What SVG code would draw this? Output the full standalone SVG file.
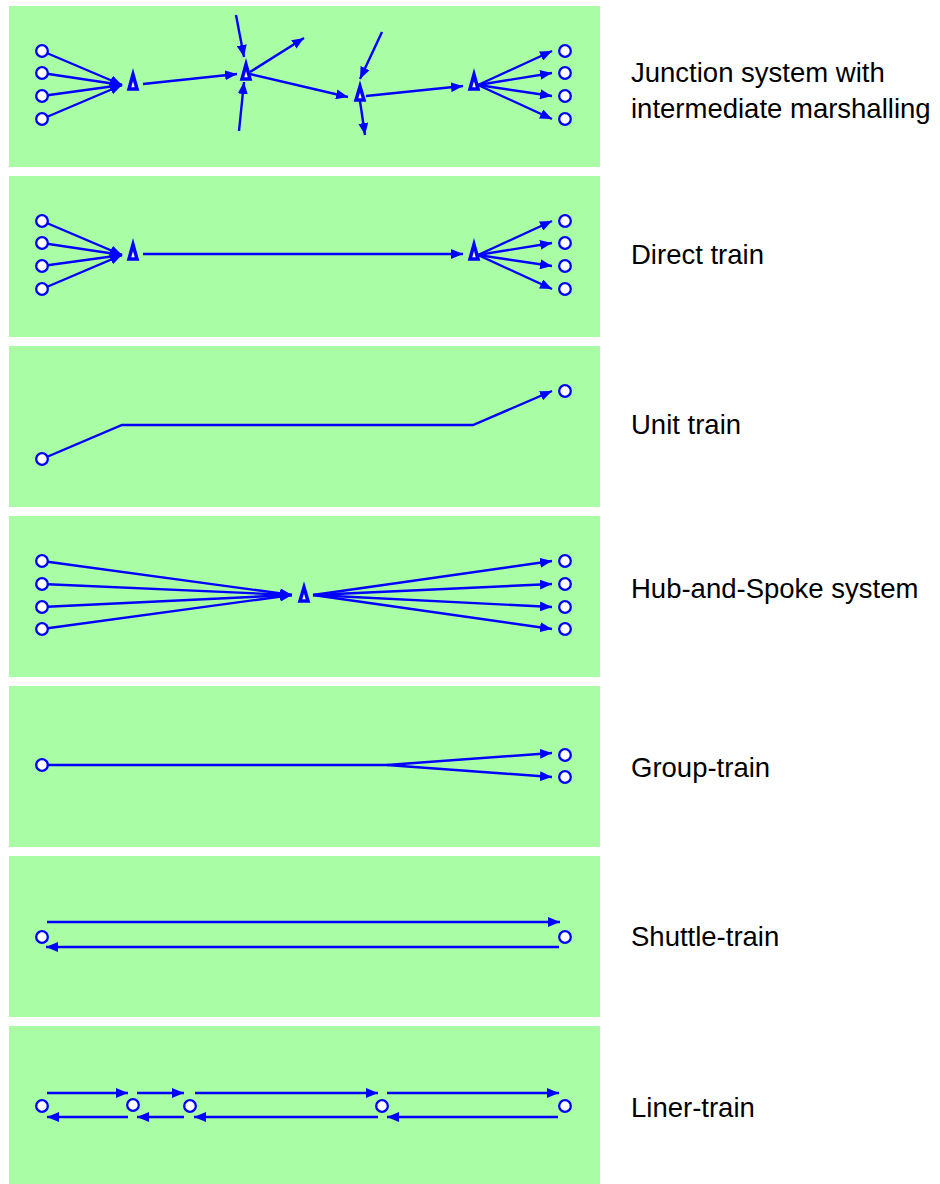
<svg xmlns="http://www.w3.org/2000/svg" width="940" height="1184" viewBox="0 0 940 1184">
<defs>
<marker id="ah" markerUnits="userSpaceOnUse" markerWidth="13" markerHeight="10" refX="12" refY="5" orient="auto">
<path d="M0,0 L12,5 L0,10 Z" fill="#0000ff"/>
</marker>
</defs>
<style>
.panel{fill:#a9fda5}
.c{fill:#fff;stroke:#0000ff;stroke-width:2.3}
.t{fill:#fff;stroke:#0000ff;stroke-width:3.5;stroke-linejoin:miter}
.l{stroke:#0000ff;stroke-width:2.4;fill:none}
.a{stroke:#0000ff;stroke-width:2.4;fill:none;marker-end:url(#ah)}
.lbl{font-family:"Liberation Sans",Arial,sans-serif;font-size:27.5px;fill:#000}
</style>
<rect width="940" height="1184" fill="#fff"/>
<g id="panels">
<rect class="panel" x="9" y="6" width="591" height="161"/>
<rect class="panel" x="9" y="176" width="591" height="161"/>
<rect class="panel" x="9" y="346" width="591" height="161"/>
<rect class="panel" x="9" y="516" width="591" height="161"/>
<rect class="panel" x="9" y="686" width="591" height="161"/>
<rect class="panel" x="9" y="856" width="591" height="161"/>
<rect class="panel" x="9" y="1026" width="591" height="161"/>
</g>
<g id="connectors">
<line class="a" x1="42" y1="51" x2="122" y2="85"/>
<line class="a" x1="42" y1="73" x2="122" y2="85"/>
<line class="a" x1="42" y1="96" x2="122" y2="85"/>
<line class="a" x1="42" y1="119" x2="122" y2="85"/>
<line class="a" x1="143" y1="84" x2="237" y2="74"/>
<line class="a" x1="236" y1="15" x2="244" y2="57"/>
<line class="a" x1="239" y1="131" x2="244" y2="82"/>
<line class="a" x1="250" y1="72" x2="304" y2="38"/>
<line class="a" x1="250" y1="74" x2="348" y2="97"/>
<line class="a" x1="382" y1="32" x2="360" y2="79"/>
<line class="a" x1="360" y1="101" x2="365" y2="135"/>
<line class="a" x1="366" y1="96" x2="463" y2="86"/>
<line class="a" x1="478" y1="85" x2="552" y2="51"/>
<line class="a" x1="478" y1="85" x2="552" y2="73"/>
<line class="a" x1="478" y1="85" x2="552" y2="96"/>
<line class="a" x1="478" y1="85" x2="552" y2="119"/>
<line class="a" x1="42" y1="221" x2="122" y2="255"/>
<line class="a" x1="42" y1="243" x2="122" y2="255"/>
<line class="a" x1="42" y1="266" x2="122" y2="255"/>
<line class="a" x1="42" y1="289" x2="122" y2="255"/>
<line class="a" x1="143" y1="254" x2="463" y2="254"/>
<line class="a" x1="478" y1="255" x2="552" y2="221"/>
<line class="a" x1="478" y1="255" x2="552" y2="243"/>
<line class="a" x1="478" y1="255" x2="552" y2="266"/>
<line class="a" x1="478" y1="255" x2="552" y2="289"/>
<polyline class="a" points="42,459 122,425 473,425 552,391"/>
<line class="a" x1="42" y1="561" x2="292" y2="595"/>
<line class="a" x1="42" y1="584" x2="292" y2="595"/>
<line class="a" x1="42" y1="607" x2="292" y2="595"/>
<line class="a" x1="42" y1="629" x2="292" y2="595"/>
<line class="a" x1="313" y1="595" x2="552" y2="561"/>
<line class="a" x1="313" y1="595" x2="552" y2="584"/>
<line class="a" x1="313" y1="595" x2="552" y2="607"/>
<line class="a" x1="313" y1="595" x2="552" y2="629"/>
<line class="l" x1="42" y1="765" x2="387" y2="765"/>
<line class="a" x1="387" y1="765" x2="552" y2="753"/>
<line class="a" x1="387" y1="765" x2="552" y2="777"/>
<line class="a" x1="47" y1="922" x2="560" y2="922"/>
<line class="a" x1="559" y1="947" x2="46" y2="947"/>
<line class="a" x1="47" y1="1093" x2="128" y2="1093"/>
<line class="a" x1="137" y1="1093" x2="184" y2="1093"/>
<line class="a" x1="195" y1="1093" x2="378" y2="1093"/>
<line class="a" x1="387" y1="1093" x2="559" y2="1093"/>
<line class="a" x1="128" y1="1117" x2="47" y2="1117"/>
<line class="a" x1="184" y1="1117" x2="137" y2="1117"/>
<line class="a" x1="378" y1="1117" x2="194" y2="1117"/>
<line class="a" x1="558" y1="1117" x2="387" y2="1117"/>
</g>
<g id="junction-system">
<circle class="c" cx="42" cy="51" r="5.8"/>
<circle class="c" cx="42" cy="73" r="5.8"/>
<circle class="c" cx="42" cy="96" r="5.8"/>
<circle class="c" cx="42" cy="119" r="5.8"/>
<path class="t" d="M133,74.5 L129,89 L137,89 Z"/>
<path class="t" d="M246,64.5 L242,79 L250,79 Z"/>
<path class="t" d="M360,86.5 L356,100 L364,100 Z"/>
<path class="t" d="M474,74.5 L470,89 L478,89 Z"/>
<circle class="c" cx="565" cy="51" r="5.8"/>
<circle class="c" cx="565" cy="73" r="5.8"/>
<circle class="c" cx="565" cy="96" r="5.8"/>
<circle class="c" cx="565" cy="119" r="5.8"/>
<text class="lbl" x="631" y="82">Junction system with</text>
<text class="lbl" x="631" y="118">intermediate marshalling</text>
</g>
<g id="direct-train">
<circle class="c" cx="42" cy="221" r="5.8"/>
<circle class="c" cx="42" cy="243" r="5.8"/>
<circle class="c" cx="42" cy="266" r="5.8"/>
<circle class="c" cx="42" cy="289" r="5.8"/>
<path class="t" d="M133,244.5 L129,259 L137,259 Z"/>
<path class="t" d="M474,244.5 L470,259 L478,259 Z"/>
<circle class="c" cx="565" cy="221" r="5.8"/>
<circle class="c" cx="565" cy="243" r="5.8"/>
<circle class="c" cx="565" cy="266" r="5.8"/>
<circle class="c" cx="565" cy="289" r="5.8"/>
<text class="lbl" x="631" y="264">Direct train</text>
</g>
<g id="unit-train">
<circle class="c" cx="42" cy="459" r="5.8"/>
<circle class="c" cx="565" cy="391" r="5.8"/>
<text class="lbl" x="631" y="434">Unit train</text>
</g>
<g id="hub-and-spoke">
<circle class="c" cx="42" cy="561" r="5.8"/>
<circle class="c" cx="42" cy="584" r="5.8"/>
<circle class="c" cx="42" cy="607" r="5.8"/>
<circle class="c" cx="42" cy="629" r="5.8"/>
<path class="t" d="M304,587.5 L300,601 L308,601 Z"/>
<circle class="c" cx="565" cy="561" r="5.8"/>
<circle class="c" cx="565" cy="584" r="5.8"/>
<circle class="c" cx="565" cy="607" r="5.8"/>
<circle class="c" cx="565" cy="629" r="5.8"/>
<text class="lbl" x="631" y="598">Hub-and-Spoke system</text>
</g>
<g id="group-train">
<circle class="c" cx="42" cy="765" r="5.8"/>
<circle class="c" cx="565" cy="755" r="5.8"/>
<circle class="c" cx="565" cy="777" r="5.8"/>
<text class="lbl" x="631" y="777">Group-train</text>
</g>
<g id="shuttle-train">
<circle class="c" cx="42" cy="937" r="5.8"/>
<circle class="c" cx="565" cy="937" r="5.8"/>
<text class="lbl" x="631" y="946">Shuttle-train</text>
</g>
<g id="liner-train">
<circle class="c" cx="42" cy="1106" r="5.8"/>
<circle class="c" cx="133" cy="1105" r="5.8"/>
<circle class="c" cx="190" cy="1106" r="5.8"/>
<circle class="c" cx="382" cy="1106" r="5.8"/>
<circle class="c" cx="565" cy="1106" r="5.8"/>
<text class="lbl" x="631" y="1117">Liner-train</text>
</g>
</svg>
